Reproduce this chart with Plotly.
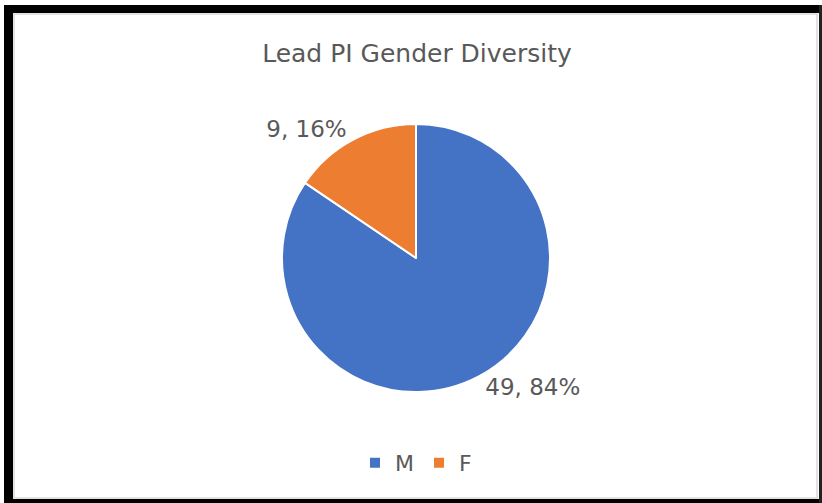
import plotly.graph_objects as go

labels = ["M", "F"]
values = [49, 9]
colors = ["#4472C4", "#ED7D31"]
title_text = "Lead PI Gender Diversity"

W, H = 822, 503
FONT = "DejaVu Sans"

def px(x):
    return x / W

def py(y):
    return 1 - y / H

cx, cy, r = 416, 258, 134

fig = go.Figure(go.Pie(
    labels=labels,
    values=values,
    sort=False,
    direction="clockwise",
    rotation=0,
    marker=dict(colors=colors, line=dict(color="white", width=2)),
    texttemplate="%{value}, %{percent:.0%}",
    textposition="outside",
    textfont=dict(family=FONT, size=23, color="#595959"),
    domain=dict(x=[px(cx - r), px(cx + r)], y=[py(cy + r), py(cy - r)]),
    hoverinfo="label+value+percent",
))

shapes = [
    # inner light grey frame line
    dict(type="rect", xref="paper", yref="paper", x0=px(14), x1=px(817), y0=py(498), y1=py(14),
         line=dict(color="#D9D9D9", width=1.5), fillcolor="rgba(0,0,0,0)"),
    # black frame pieces
    dict(type="rect", xref="paper", yref="paper", x0=px(4), x1=px(13), y0=py(503), y1=py(5),
         line=dict(width=0), fillcolor="black"),
    dict(type="rect", xref="paper", yref="paper", x0=px(4), x1=px(822), y0=py(13), y1=py(5),
         line=dict(width=0), fillcolor="black"),
    dict(type="rect", xref="paper", yref="paper", x0=px(4), x1=px(822), y0=py(503), y1=py(499),
         line=dict(width=0), fillcolor="black"),
    dict(type="rect", xref="paper", yref="paper", x0=px(819), x1=px(822), y0=py(503), y1=py(5),
         line=dict(width=0), fillcolor="#222222"),
]

fig.update_layout(
    width=W, height=H,
    margin=dict(l=0, r=0, t=0, b=0),
    paper_bgcolor="white",
    plot_bgcolor="white",
    title=dict(text=title_text, x=px(417), xanchor="center", xref="paper",
               y=py(53), yanchor="middle", yref="paper",
               font=dict(family=FONT, size=25, color="#595959")),
    legend=dict(orientation="h", x=px(416), xanchor="center", y=py(463), yanchor="middle",
                font=dict(family=FONT, size=22, color="#595959"),
                itemwidth=30, traceorder="normal"),
    showlegend=True,
    shapes=shapes,
)

fig.write_html("out.html", config={"displayModeBar": False},
               post_script="document.body.style.margin='0px';document.body.style.padding='0px';")
